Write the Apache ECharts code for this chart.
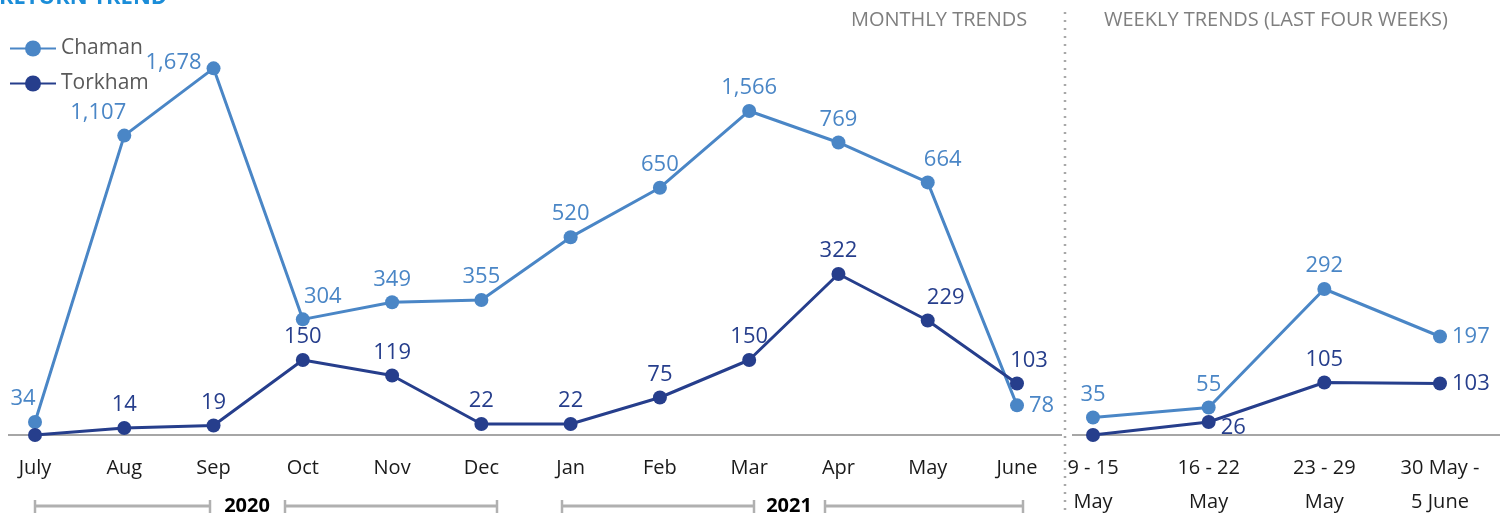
<!DOCTYPE html>
<html>
<head>
<meta charset="utf-8">
<title>Return trend</title>
<script src="https://cdn.jsdelivr.net/npm/echarts@6.0.0/dist/echarts.min.js"></script>
<style>
  html, body { margin: 0; padding: 0; background: #fff; }
  #chart { width: 1512px; height: 513px; }
</style>
</head>
<body>
<div id="chart"></div>
<script>
// ---- data ----
var monthLabels = ['July', 'Aug', 'Sep', 'Oct', 'Nov', 'Dec', 'Jan', 'Feb', 'Mar', 'Apr', 'May', 'June'];
var weekLabels = ['9 - 15\nMay', '16 - 22\nMay', '23 - 29\nMay', '30 May -\n5 June'];
var chamanMonthly = [34, 1107, 1678, 304, 349, 355, 520, 650, 1566, 769, 664, 78];
var torkhamMonthly = [0, 14, 19, 150, 119, 22, 22, 75, 150, 322, 229, 103];
var chamanWeekly = [35, 55, 292, 197];
var torkhamWeekly = [0, 26, 105, 103];

var CHAMAN = '#4a86c6';
var TORKHAM = '#263e8c';
var FONT = '"Open Sans", "Noto Sans", sans-serif';

// per-point label tweaks (index -> label options)
var chamanMonthLabel = {
    0: { offset: [-12, 0] },
    1: { offset: [-26, 0] },
    2: { position: 'left', offset: [0, -6] },
    3: { offset: [20, 0] },
    10: { offset: [15, 0] },
    11: { position: 'right' }
};
var torkhamMonthLabel = {
    10: { offset: [18, 0] },
    11: { offset: [12, 0] }
};
var chamanWeekLabel = { 3: { position: 'right' } };
var torkhamWeekLabel = { 1: { position: 'right', offset: [0, 6] }, 3: { position: 'right' } };

function points(values, tweaks) {
    return values.map(function (v, i) {
        var item = { value: v };
        if (tweaks[i]) item.label = tweaks[i];
        return item;
    });
}

function lineSeries(name, color, data, xi, yi) {
    return {
        name: name,
        type: 'line',
        xAxisIndex: xi,
        yAxisIndex: yi,
        data: data,
        symbol: 'circle',
        symbolSize: 14,
        lineStyle: { width: 3, color: color },
        itemStyle: { color: color },
        z: 3,
        label: {
            show: true,
            position: 'top',
            distance: 5,
            color: color,
            fontFamily: FONT,
            fontSize: 22,
            formatter: function (p) {
                return p.value === 0 ? '' : p.value.toLocaleString('en-US');
            }
        }
    };
}

var chart = echarts.init(document.getElementById('chart'));

var catAxis = function (grid, labels) {
    return {
        type: 'category',
        gridIndex: grid,
        data: labels,
        boundaryGap: false,
        axisLine: { show: false },
        axisTick: { show: false },
        axisLabel: {
            color: '#1a1a1a',
            fontFamily: FONT,
            fontSize: 20,
            lineHeight: 34,
            margin: 16,
            interval: 0
        }
    };
};

var grey = '#b0b0b0';

function bracket(x1, x2) {
    return [
        { type: 'line', shape: { x1: x1, y1: 506, x2: x2, y2: 506 }, style: { stroke: grey, lineWidth: 3 } },
        { type: 'line', shape: { x1: x1, y1: 500, x2: x1, y2: 513 }, style: { stroke: grey, lineWidth: 2.5 } },
        { type: 'line', shape: { x1: x2, y1: 500, x2: x2, y2: 513 }, style: { stroke: grey, lineWidth: 2.5 } }
    ];
}

function label(x, y, text, font, fill, align) {
    return {
        type: 'text', x: x, y: y,
        style: { text: text, font: font, fill: fill, align: align || 'left', verticalAlign: 'middle' }
    };
}

var graphics = [
    label(-1, -2, 'RETURN TREND', 'bold 22px ' + FONT, '#1b8dd8'),
    label(851, 20, 'MONTHLY TRENDS', '20px ' + FONT, '#7f7f7f'),
    label(1104, 20, 'WEEKLY TRENDS (LAST FOUR WEEKS)', '20px ' + FONT, '#7f7f7f'),
    { type: 'line', shape: { x1: 1065, y1: 12, x2: 1065, y2: 513 }, style: { stroke: '#a8a8a8', lineWidth: 2.5, lineDash: [2, 6] } },
    { type: 'line', shape: { x1: 8, y1: 435, x2: 1062, y2: 435 }, style: { stroke: '#a6a6a6', lineWidth: 2 } },
    { type: 'line', shape: { x1: 1072, y1: 435, x2: 1500, y2: 435 }, style: { stroke: '#a6a6a6', lineWidth: 2 } },
    label(247, 506, '2020', 'bold 20px ' + FONT, '#000', 'center'),
    label(789, 506, '2021', 'bold 20px ' + FONT, '#000', 'center')
].concat(bracket(35, 210), bracket(285, 497), bracket(562, 754), bracket(825, 1023));

var option = {
    animation: false,
    backgroundColor: '#fff',
    textStyle: { fontFamily: FONT },
    legend: {
        data: ['Chaman', 'Torkham'],
        orient: 'vertical',
        left: 4,
        top: 33,
        itemWidth: 46,
        itemHeight: 20,
        itemGap: 14,
        textStyle: { color: '#595959', fontSize: 21, fontFamily: FONT }
    },
    grid: [
        { left: 35, width: 982, top: 60, height: 375, outerBoundsMode: 'none', containLabel: false },
        { left: 1093, width: 347, top: 60, height: 375, outerBoundsMode: 'none', containLabel: false }
    ],
    xAxis: [catAxis(0, monthLabels), catAxis(1, weekLabels)],
    yAxis: [
        // Chaman monthly: broken scale so the two large peaks fit
        {
            type: 'value', gridIndex: 0, min: 0, max: 1700, show: false,
            breaks: [{ start: 780, end: 1510, gap: '1.6%' }],
            breakArea: { show: false }
        },
        { type: 'value', gridIndex: 0, min: 0, max: 750, show: false },
        { type: 'value', gridIndex: 1, min: 0, max: 750, show: false }
    ],
    graphic: graphics,
    series: [
        lineSeries('Chaman', CHAMAN, points(chamanMonthly, chamanMonthLabel), 0, 0),
        lineSeries('Torkham', TORKHAM, points(torkhamMonthly, torkhamMonthLabel), 0, 1),
        lineSeries('Chaman', CHAMAN, points(chamanWeekly, chamanWeekLabel), 1, 2),
        lineSeries('Torkham', TORKHAM, points(torkhamWeekly, torkhamWeekLabel), 1, 2)
    ]
};

chart.setOption(option);
</script>
</body>
</html>
